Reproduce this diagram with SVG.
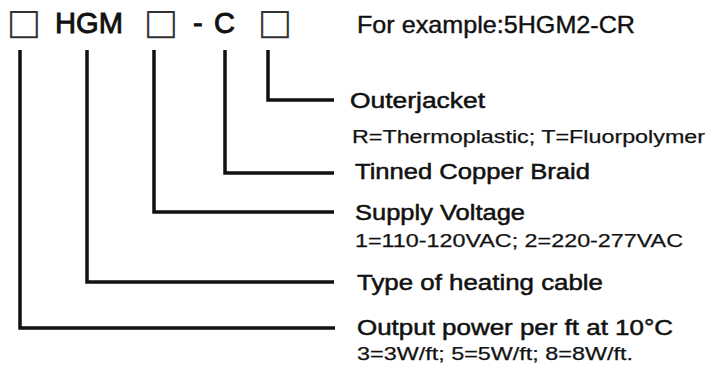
<svg xmlns="http://www.w3.org/2000/svg" width="707" height="374" viewBox="0 0 707 374">
<style>
text{font-family:"Liberation Sans",Arial,sans-serif;fill:#111}
.code{font-size:29px;stroke:#111;stroke-width:0.9}
.sq{font-family:"DejaVu Sans",sans-serif;font-size:36px;fill:#333}
.h{font-size:22px;stroke:#111;stroke-width:0.5}
.s{font-size:17.5px;stroke:#222;stroke-width:0.25}
.ln{fill:none;stroke:#111;stroke-width:3.5;stroke-linejoin:miter;stroke-linecap:butt}
</style>
<rect width="707" height="374" fill="#fff"/>
<g id="code">
<text class="sq" x="7" y="34">□</text>
<text class="code" x="55" y="33" textLength="68" lengthAdjust="spacingAndGlyphs">HGM</text>
<text class="sq" x="144" y="34">□</text>
<text class="code" x="193" y="33">-</text>
<text class="code" x="214" y="33">C</text>
<text class="sq" x="258" y="34">□</text>
</g>
<g id="example">
<text x="357" y="33" font-size="24" stroke="#111" stroke-width="0.4" textLength="278" lengthAdjust="spacingAndGlyphs">For example:5HGM2-CR</text>
</g>
<g id="connectors">
<path class="ln" d="M268 50V100H334"/>
<path class="ln" d="M225 50V173H334"/>
<path class="ln" d="M154 50V212H334"/>
<path class="ln" d="M87 50V282H334"/>
<path class="ln" d="M20 50V328H335"/>
</g>
<g id="outerjacket">
<text class="h" x="350" y="108" textLength="135" lengthAdjust="spacingAndGlyphs">Outerjacket</text>
<text class="s" x="352" y="143" textLength="353" lengthAdjust="spacingAndGlyphs">R=Thermoplastic; T=Fluorpolymer</text>
</g>
<g id="braid">
<text class="h" x="355" y="179" textLength="235" lengthAdjust="spacingAndGlyphs">Tinned Copper Braid</text>
</g>
<g id="voltage">
<text class="h" x="355" y="220" textLength="170" lengthAdjust="spacingAndGlyphs">Supply Voltage</text>
<text class="s" x="355" y="247" textLength="328" lengthAdjust="spacingAndGlyphs">1=110-120VAC; 2=220-277VAC</text>
</g>
<g id="type">
<text class="h" x="357" y="290" textLength="246" lengthAdjust="spacingAndGlyphs">Type of heating cable</text>
</g>
<g id="power">
<text class="h" x="357" y="335" textLength="316" lengthAdjust="spacingAndGlyphs">Output power per ft at 10°C</text>
<text class="s" x="357" y="360" textLength="276" lengthAdjust="spacingAndGlyphs">3=3W/ft; 5=5W/ft; 8=8W/ft.</text>
</g>
</svg>
